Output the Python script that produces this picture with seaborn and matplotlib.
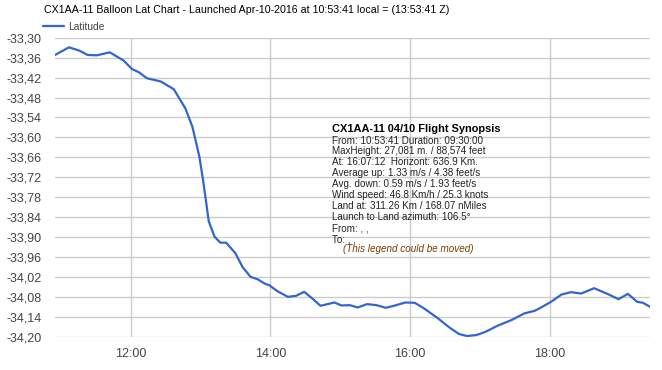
import matplotlib
matplotlib.use("Agg")
import matplotlib.pyplot as plt
import matplotlib.dates as mdates
from matplotlib.ticker import FuncFormatter
import seaborn as sns
import pandas as pd
import numpy as np

times = ["10:55", "11:07", "11:16", "11:23", "11:31", "11:42", "11:54", "12:01", "12:07", "12:14",
         "12:26", "12:37", "12:47", "12:53", "12:59", "13:02", "13:05", "13:07", "13:12", "13:17",
         "13:22", "13:30", "13:36", "13:43", "13:49", "13:55", "13:59", "14:06", "14:15", "14:22",
         "14:29", "14:36", "14:43", "14:55", "15:01", "15:08", "15:15", "15:23", "15:31", "15:39",
         "15:46", "15:56", "16:04", "16:12", "16:24", "16:34", "16:42", "16:49", "16:57", "17:05",
         "17:15", "17:27", "17:38", "17:47", "17:52", "18:01", "18:10", "18:18", "18:27", "18:38",
         "18:50", "18:59", "19:07", "19:15", "19:20", "19:26"]
latitude = [-33.352, -33.329, -33.339, -33.352, -33.353, -33.344, -33.369, -33.394, -33.404, -33.422,
            -33.432, -33.455, -33.513, -33.568, -33.658, -33.725, -33.800, -33.852, -33.899, -33.917,
            -33.917, -33.949, -33.990, -34.020, -34.027, -34.040, -34.045, -34.063, -34.080, -34.077,
            -34.065, -34.085, -34.107, -34.097, -34.106, -34.105, -34.112, -34.102, -34.105, -34.113,
            -34.107, -34.097, -34.098, -34.115, -34.145, -34.173, -34.192, -34.198, -34.195, -34.185,
            -34.167, -34.150, -34.130, -34.122, -34.113, -34.095, -34.073, -34.066, -34.070, -34.054,
            -34.072, -34.087, -34.071, -34.095, -34.098, -34.110]
y_ticks = [-33.30, -33.36, -33.42, -33.48, -33.54, -33.60, -33.66, -33.72, -33.78,
           -33.84, -33.90, -33.96, -34.02, -34.08, -34.14, -34.20]
x_tick_hours = [12, 14, 16, 18]

title = "CX1AA-11 Balloon Lat Chart - Launched Apr-10-2016 at 10:53:41 local = (13:53:41 Z)"
synopsis_title = "CX1AA-11 04/10 Flight Synopsis"
synopsis_lines = [
    "From: 10:53:41 Duration: 09:30:00",
    "MaxHeight: 27,081 m. / 88,574 feet",
    "At: 16:07:12  Horizont: 636.9 Km.",
    "Average up: 1.33 m/s / 4.38 feet/s",
    "Avg. down: 0.59 m/s / 1.93 feet/s",
    "Wind speed: 46.8 Km/h / 25.3 knots",
    "Land at: 311.26 Km / 168.07 nMiles",
    "Launch to Land azimuth: 106.5°",
    "From: , ,",
    "To: , ,",
]
synopsis_note = "(This legend could be moved)"

df = pd.DataFrame({
    "time": pd.to_datetime(["2016-04-10 " + t for t in times]),
    "Latitude": latitude,
})

sns.set_style("white")
plt.rcParams["font.family"] = ["Liberation Sans", "DejaVu Sans"]

fig = plt.figure(figsize=(6.62, 3.70), dpi=100)
ax = fig.add_axes([55 / 662, 33.3 / 370, 595 / 662, 299 / 370])

line_color = "#3366CC"
sns.lineplot(data=df, x="time", y="Latitude", ax=ax, color=line_color, linewidth=1.6, label="Latitude")

ax.set_xlim(df["time"].min(), df["time"].max())
ax.set_ylim(-34.20, -33.30)
ax.set_yticks(y_ticks)
ax.yaxis.set_major_formatter(FuncFormatter(lambda v, p: f"{v:.2f}".replace(".", ",")))
ax.xaxis.set_major_locator(mdates.HourLocator(byhour=x_tick_hours))
ax.xaxis.set_major_formatter(mdates.DateFormatter("%H:%M"))
ax.grid(True, color="#cccccc", linewidth=1)
ax.set_axisbelow(True)
for s in ax.spines.values():
    s.set_visible(False)
ax.tick_params(axis="both", length=0, labelsize=9, labelcolor="#444444")
ax.tick_params(axis="y", pad=9.4)
ax.tick_params(axis="x", pad=8)
ax.set_xlabel("")
ax.set_ylabel("")

leg = ax.legend(loc="center left", bbox_to_anchor=(43 / 662, 1 - 27 / 370), bbox_transform=fig.transFigure,
                frameon=False, fontsize=7.4, handlelength=2.0, handletextpad=0.45, borderpad=0, borderaxespad=0)
for t in leg.get_texts():
    t.set_color("#444444")

fig.text(44 / 662, 1 - 10 / 370, title, ha="left", va="center", fontsize=7.7,
         color="#000000")

tx = 332 / 662
fig.text(tx, 1 - 129.5 / 370, synopsis_title, ha="left", va="center", fontsize=7.9,
         fontweight="bold", color="#000000")
for i, s in enumerate(synopsis_lines):
    fig.text(tx, 1 - (140.5 + 10.95 * i) / 370, s, ha="left", va="center", fontsize=7.1,
             color="#222222")
fig.text(343 / 662, 1 - 249.5 / 370, synopsis_note, ha="left", va="center", fontsize=7.1,
         style="italic", color="#7a3a00")

fig.savefig("out.png", dpi=100)
